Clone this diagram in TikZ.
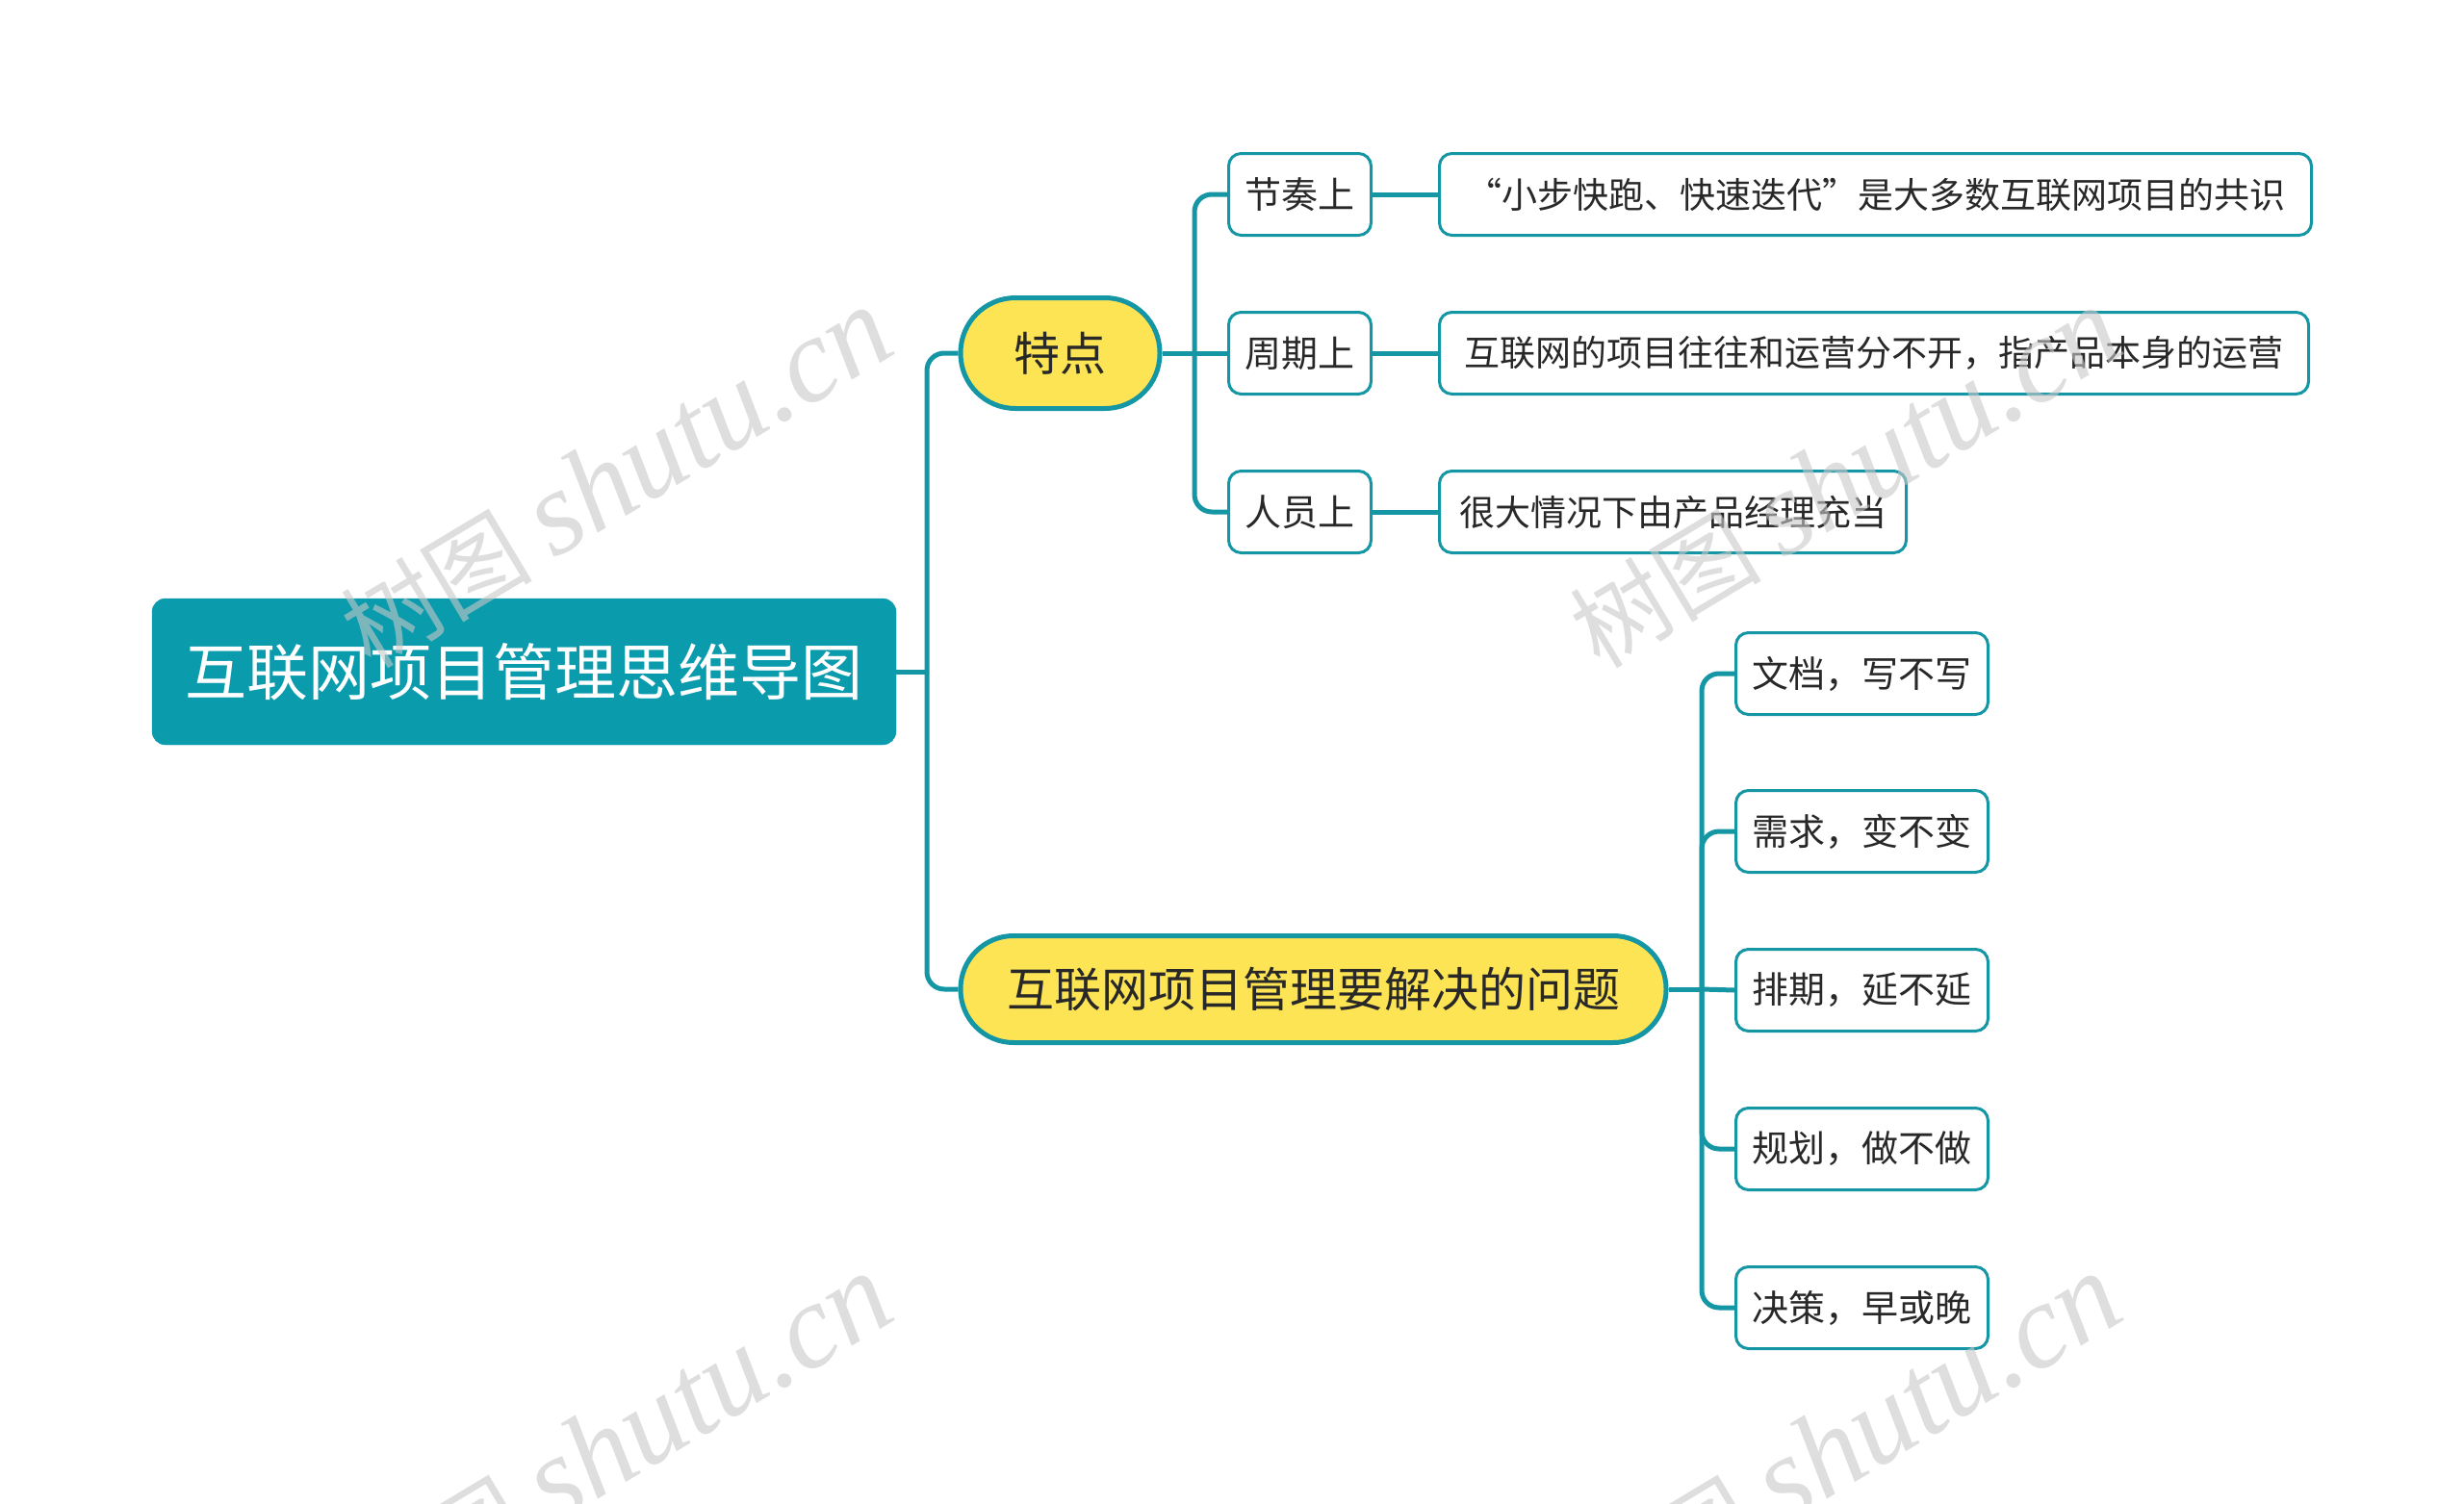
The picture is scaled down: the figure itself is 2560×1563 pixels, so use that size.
\documentclass[tikz,border=0pt]{standalone}
\usepackage{fontspec}
\setmainfont{Noto Sans CJK SC}
\newfontfamily\wmlatin{Liberation Serif}
\newfontfamily\wmcjk{Noto Sans CJK SC}
\definecolor{teal1}{RGB}{20,150,165}
\definecolor{rootfill}{RGB}{10,155,173}
\definecolor{yel}{RGB}{253,228,84}
\definecolor{txt}{RGB}{40,40,40}
\definecolor{wm}{RGB}{200,200,200}
\begin{document}
\begin{tikzpicture}[x=1pt,y=-1pt,
  rootbox/.style={fill=rootfill, draw=rootfill, rounded corners=14pt, text=white,
    font=\fontsize{64pt}{70pt}\selectfont, minimum width=773pt, minimum height=152pt, inner sep=0pt},
  midbox/.style={fill=yel, draw=teal1, line width=5pt, text=txt, inner sep=0pt,
    font=\fontsize{48pt}{52pt}\selectfont},
  smallbox/.style={fill=white, draw=teal1, line width=3pt, rounded corners=13pt, text=txt,
    font=\fontsize{38pt}{42pt}\selectfont, minimum height=85pt, inner xsep=17pt, inner ysep=0pt, anchor=west},
  leafbox/.style={smallbox, inner xsep=12pt, font=\fontsize{37pt}{41pt}\selectfont},
  conn/.style={draw=teal1, line width=5pt, rounded corners=18pt},
  wmark/.style={rotate=31, text=wm, text opacity=0.6, inner sep=0pt}
]
\useasboundingbox (0,0) rectangle (2560,1563);

% root and main branches
\node[rootbox] (root) at (544.5,698) {互联网项目管理思维导图};
\node[midbox, rounded corners=57pt, minimum width=207pt, minimum height=115pt] (td) at (1101.5,367) {特点};
\node[midbox, rounded corners=55pt, minimum width=733pt, minimum height=111pt, font=\fontsize{49pt}{54pt}\selectfont] (wt) at (1364.5,1028) {互联网项目管理要解决的问题};

% features
\node[smallbox] (jz) at (1275,202) {节奏上};
\node[smallbox] (zq) at (1275,367) {周期上};
\node[smallbox] (ry) at (1275,532) {人员上};
\node[leafbox, minimum width=906pt] (l1) at (1494,202) {“小步快跑、快速迭代”是大多数互联网项目的共识};
\node[leafbox, minimum width=903pt] (l2) at (1494,367) {互联网的项目往往和运营分不开，指产品本身的运营};
\node[leafbox, minimum width=485pt] (l3) at (1494,532) {很大情况下由产品经理充当};

% problems
\node[smallbox, inner xsep=17pt, minimum width=262pt] (p1) at (1802,700) {文档，写不写};
\node[smallbox, inner xsep=17pt, minimum width=262pt] (p2) at (1802,864) {需求，变不变};
\node[smallbox, inner xsep=17pt, minimum width=262pt] (p3) at (1802,1029) {排期，延不延};
\node[smallbox, inner xsep=17pt, minimum width=262pt] (p4) at (1802,1194) {规划，做不做};
\node[smallbox, inner xsep=17pt, minimum width=262pt] (p5) at (1802,1359) {决策，早或晚};

% connectors
\coordinate (t1) at (963,698);
\coordinate (t2) at (1241,367);
\coordinate (t3) at (1768,1028);
\draw[conn] (root.east) -- (t1);
\draw[conn] (t1) |- (td.west);
\draw[conn] (t1) |- (wt.west);
\draw[conn] (td.east) -- (t2);
\draw[conn] (t2) |- (jz.west);
\draw[conn] (t2) -- (zq.west);
\draw[conn] (t2) |- (ry.west);
\draw[conn] (jz.east) -- (l1.west);
\draw[conn] (zq.east) -- (l2.west);
\draw[conn] (ry.east) -- (l3.west);
\draw[conn] (wt.east) -- (t3);
\draw[conn] (t3) |- (p1.west);
\draw[conn] (t3) |- (p2.west);
\draw[conn] (t3) -- (p3.west);
\draw[conn] (t3) |- (p4.west);
\draw[conn] (t3) |- (p5.west);

% watermarks
\foreach \i/\px/\py in {a/640/497, b/1917/497, c/640/1501, d/1917/1501}{
  \node[wmark] (wm\i) at (\px,\py) {{\wmcjk\fontsize{100pt}{110pt}\selectfont 树图}\hspace{22pt}{\wmlatin\itshape\fontsize{125pt}{130pt}\selectfont shutu.cn}};
}
\end{tikzpicture}
\end{document}
